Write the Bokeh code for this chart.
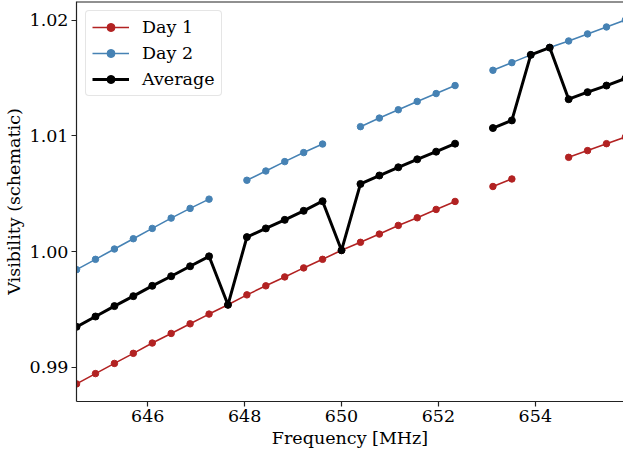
import numpy as np
from bokeh.plotting import figure
from bokeh.models import Range1d, FixedTicker, Span, NumeralTickFormatter
from bokeh.embed import file_html
from bokeh.resources import INLINE

nan = float("nan")

freq = [644.531, 644.922, 645.313, 645.703, 646.094, 646.484, 646.875, 647.266,
        647.656, 648.047, 648.438, 648.828, 649.219, 649.609, 650.000, 650.391,
        650.781, 651.172, 651.563, 651.953, 652.344, 652.734, 653.125, 653.516,
        653.906, 654.297, 654.688, 655.078, 655.469, 655.859]

day1 = [0.98857, 0.98946, 0.99034, 0.99121, 0.99210, 0.99293, 0.99376, 0.99460,
        0.99540, 0.99626, 0.99704, 0.99781, 0.99859, 0.99933, 1.00011, 1.00080,
        1.00151, 1.00226, 1.00292, 1.00364, 1.00433, nan, 1.00562, 1.00627,
        nan, nan, 1.00814, 1.00872, 1.00932, 1.00989]

day2 = [0.99844, 0.99933, 1.00022, 1.00111, 1.00200, 1.00289, 1.00373, 1.00453,
        nan, 1.00616, 1.00696, 1.00777, 1.00855, 1.00929, nan, 1.01079,
        1.01153, 1.01225, 1.01297, 1.01365, 1.01434, nan, 1.01566, 1.01632,
        1.01699, 1.01762, 1.01819, 1.01880, 1.01940, 1.02000]

average = [0.99350, 0.99439, 0.99529, 0.99615, 0.99704, 0.99787, 0.99873, 0.99959,
           0.99540, 1.00125, 1.00200, 1.00274, 1.00352, 1.00435, 1.00011, 1.00584,
           1.00657, 1.00728, 1.00797, 1.00863, 1.00932, nan, 1.01067, 1.01133,
           1.01699, 1.01762, 1.01316, 1.01377, 1.01434, 1.01495]

x_ticks = [646, 648, 650, 652, 654]
y_ticks = [0.99, 1.00, 1.01, 1.02]

FONT = "DejaVu Serif"
FS = "17.5px"
RED = "#b22222"
BLUE = "#4682b4"

p = figure(width=623, height=453, output_backend="svg", toolbar_location=None,
           x_range=Range1d(644.53, 655.82), y_range=Range1d(0.98705, 1.0216),
           min_border_left=75, min_border_right=0, min_border_top=1,
           min_border_bottom=52)
p.grid.visible = False
p.outline_line_color = None
p.background_fill_color = "white"
p.border_fill_color = "white"

p.line(freq, day1, color=RED, line_width=1.6, legend_label="Day 1")
p.scatter(freq, day1, color=RED, size=6.5, legend_label="Day 1")
p.line(freq, day2, color=BLUE, line_width=1.6, legend_label="Day 2")
p.scatter(freq, day2, color=BLUE, size=6.5, legend_label="Day 2")
p.line(freq, average, color="black", line_width=3, legend_label="Average")
p.scatter(freq, average, color="black", size=7, legend_label="Average")

p.add_layout(Span(location=1.0216, dimension="width", line_color="#222222", line_width=2))

for ax in (p.xaxis[0], p.yaxis[0]):
    ax.axis_line_color = "#222222"
    ax.axis_line_width = 1.2
    ax.major_tick_line_color = "#222222"
    ax.major_tick_line_width = 1.2
    ax.major_tick_out = 5
    ax.major_tick_in = 0
    ax.minor_tick_line_color = None
    ax.major_label_text_font = FONT
    ax.major_label_text_font_size = FS
    ax.major_label_text_color = "black"
    ax.axis_label_text_font = FONT
    ax.axis_label_text_font_size = FS
    ax.axis_label_text_font_style = "normal"
    ax.axis_label_text_color = "black"
    ax.major_label_standoff = 3
    ax.axis_label_standoff = 3

p.xaxis[0].ticker = FixedTicker(ticks=x_ticks)
p.yaxis[0].ticker = FixedTicker(ticks=y_ticks)
p.yaxis[0].formatter = NumeralTickFormatter(format="0.00")
p.xaxis[0].axis_label = "Frequency [MHz]"
p.yaxis[0].axis_label = "Visibility (schematic)"

lg = p.legend[0]
lg.location = "top_left"
lg.margin = 9
lg.padding = 6
lg.spacing = 6
lg.glyph_width = 37
lg.glyph_height = 20
lg.label_height = 20
lg.label_standoff = 13
lg.label_text_font = FONT
lg.label_text_font_size = FS
lg.label_text_color = "black"
lg.border_line_color = "#cccccc"
lg.border_line_width = 1
lg.background_fill_alpha = 0.8
if "border_radius" in lg.properties():
    lg.border_radius = 4

open("out.html", "w").write(file_html(p, INLINE))
